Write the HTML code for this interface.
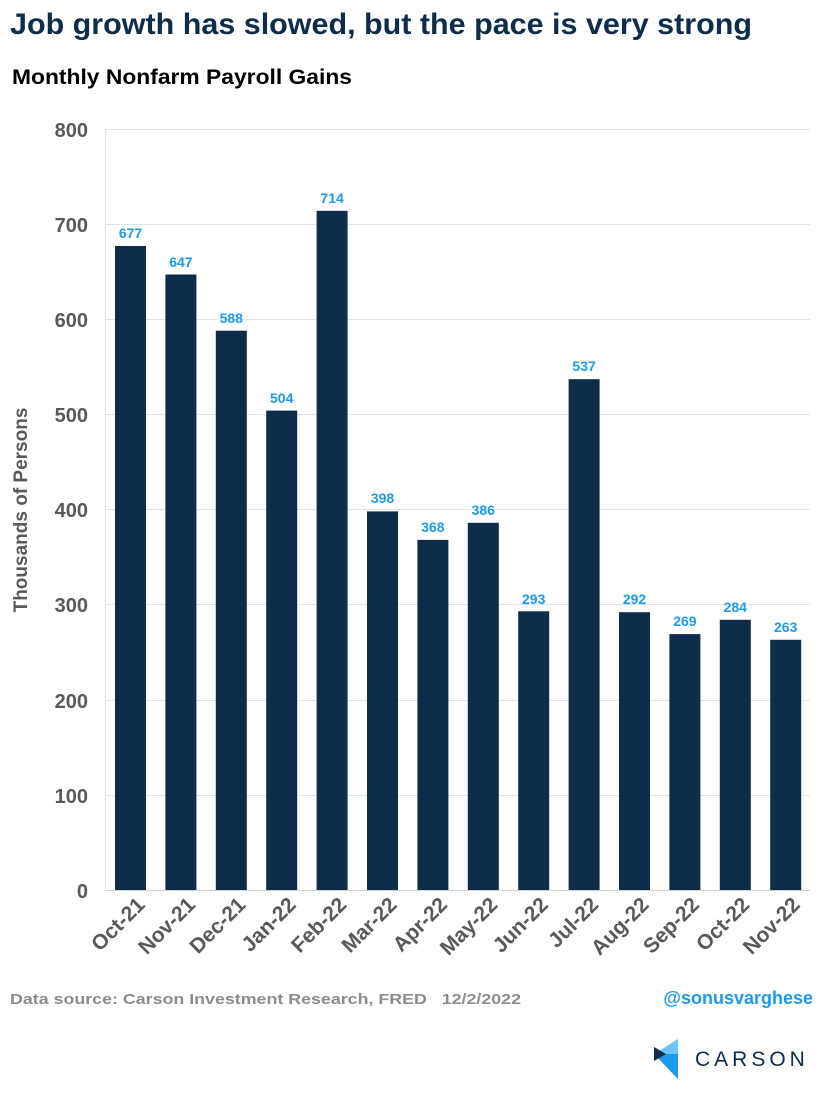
<!DOCTYPE html>
<html><head><meta charset="utf-8"><style>
body{margin:0;background:#fff;width:825px;height:1100px;overflow:hidden;font-family:"Liberation Sans",Arial,sans-serif}
</style></head><body>
<svg width="825" height="1100" xmlns="http://www.w3.org/2000/svg" font-family="Liberation Sans, Arial, sans-serif">
<text x="10" y="34" font-size="30" font-weight="bold" fill="#0d2d4a" textLength="742" lengthAdjust="spacingAndGlyphs">Job growth has slowed, but the pace is very strong</text>
<text x="12" y="84" font-size="21" font-weight="bold" fill="#000" textLength="340" lengthAdjust="spacingAndGlyphs">Monthly Nonfarm Payroll Gains</text>
<g stroke="#e3e3e3" stroke-width="1">
<line x1="105" x2="810" y1="129.5" y2="129.5"/>
<line x1="105" x2="810" y1="224.5" y2="224.5"/>
<line x1="105" x2="810" y1="319.5" y2="319.5"/>
<line x1="105" x2="810" y1="414.5" y2="414.5"/>
<line x1="105" x2="810" y1="509.5" y2="509.5"/>
<line x1="105" x2="810" y1="604.5" y2="604.5"/>
<line x1="105" x2="810" y1="700.5" y2="700.5"/>
<line x1="105" x2="810" y1="795.5" y2="795.5"/>
<line x1="105.5" x2="105.5" y1="129" y2="890"/>
</g>
<line x1="105" x2="810" y1="890.5" y2="890.5" stroke="#d0d0d0"/>
<g font-size="20" font-weight="bold" fill="#595959" text-anchor="end">
<text x="88" y="137">800</text><text x="88" y="232">700</text><text x="88" y="327">600</text><text x="88" y="422">500</text><text x="88" y="517">400</text><text x="88" y="612">300</text><text x="88" y="708">200</text><text x="88" y="803">100</text><text x="88" y="898">0</text>
</g>
<text transform="translate(27,510) rotate(-90)" font-size="19" font-weight="bold" fill="#595959" text-anchor="middle">Thousands of Persons</text>
<g fill="#0d2d4a">
<rect x="115" y="246" width="31" height="644"/>
<rect x="165.4" y="274.5" width="31" height="615.5"/>
<rect x="215.8" y="330.7" width="31" height="559.3"/>
<rect x="266.2" y="410.6" width="31" height="479.4"/>
<rect x="316.6" y="210.8" width="31" height="679.2"/>
<rect x="367" y="511.4" width="31" height="378.6"/>
<rect x="417.4" y="539.9" width="31" height="350.1"/>
<rect x="467.8" y="522.8" width="31" height="367.2"/>
<rect x="518.2" y="611.3" width="31" height="278.7"/>
<rect x="568.6" y="379.2" width="31" height="510.8"/>
<rect x="619" y="612.2" width="31" height="277.8"/>
<rect x="669.4" y="634.1" width="31" height="255.9"/>
<rect x="719.8" y="619.8" width="31" height="270.2"/>
<rect x="770.2" y="639.8" width="31" height="250.2"/>
</g>
<g font-size="14" font-weight="bold" fill="#1a9bf0" text-anchor="middle">
<text x="130.5" y="238">677</text><text x="180.9" y="267">647</text><text x="231.3" y="323">588</text><text x="281.7" y="403">504</text><text x="332.1" y="203">714</text><text x="382.5" y="503">398</text><text x="432.9" y="532">368</text><text x="483.3" y="515">386</text><text x="533.7" y="604">293</text><text x="584.1" y="371">537</text><text x="634.5" y="604">292</text><text x="684.9" y="626">269</text><text x="735.3" y="612">284</text><text x="785.7" y="632">263</text>
</g>
<g font-size="21" font-weight="bold" fill="#595959" text-anchor="end">
<text transform="translate(146,906) rotate(-45)">Oct-21</text>
<text transform="translate(196.4,906) rotate(-45)">Nov-21</text>
<text transform="translate(246.8,906) rotate(-45)">Dec-21</text>
<text transform="translate(297.2,906) rotate(-45)">Jan-22</text>
<text transform="translate(347.6,906) rotate(-45)">Feb-22</text>
<text transform="translate(398,906) rotate(-45)">Mar-22</text>
<text transform="translate(448.4,906) rotate(-45)">Apr-22</text>
<text transform="translate(498.8,906) rotate(-45)">May-22</text>
<text transform="translate(549.2,906) rotate(-45)">Jun-22</text>
<text transform="translate(599.6,906) rotate(-45)">Jul-22</text>
<text transform="translate(650,906) rotate(-45)">Aug-22</text>
<text transform="translate(700.4,906) rotate(-45)">Sep-22</text>
<text transform="translate(750.8,906) rotate(-45)">Oct-22</text>
<text transform="translate(801.2,906) rotate(-45)">Nov-22</text>
</g>
<text x="10" y="1004" font-size="15" font-weight="bold" fill="#8c8c8c" xml:space="preserve" style="white-space:pre" textLength="511" lengthAdjust="spacingAndGlyphs">Data source: Carson Investment Research, FRED   12/2/2022</text>
<text x="813" y="1004" font-size="18" font-weight="bold" fill="#1a9bf0" text-anchor="end">@sonusvarghese</text>
<polygon points="654,1054 678,1039 678,1054" fill="#6cc4ff"/>
<polygon points="654,1054 678,1054 678,1079" fill="#1a9bf0"/>
<polygon points="654,1047 666,1054 654,1061" fill="#0d2d4a"/>
<text x="695" y="1066" font-size="21" fill="#0d2d4a" letter-spacing="4">CARSON</text>
</svg>
</body></html>
